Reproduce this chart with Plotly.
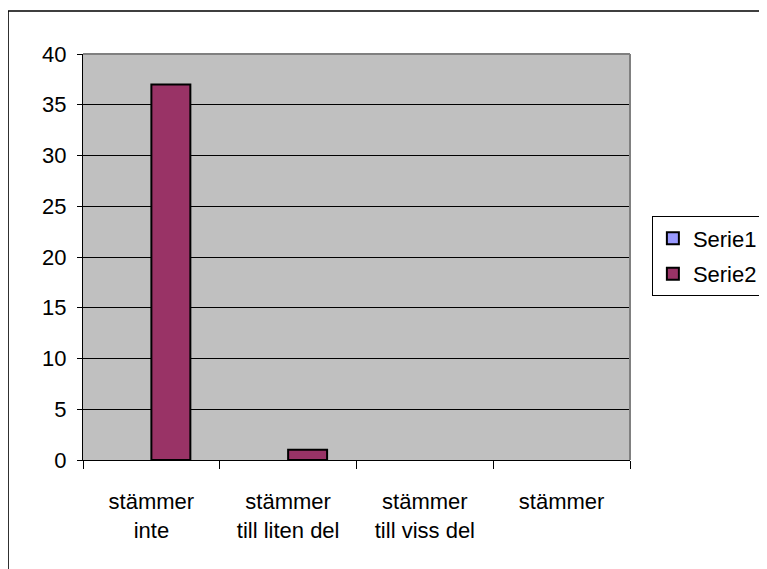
import plotly.graph_objects as go

# category labels and series values
categories = ["stämmer<br>inte", "stämmer<br>till liten del", "stämmer<br>till viss del", "stämmer"]
serie1 = [0, 0, 0, 0]
serie2 = [37, 1, 0, 0]

y_ticks = [0, 5, 10, 15, 20, 25, 30, 35, 40]

FONT = "Liberation Sans, Arial, sans-serif"


def _hide_zero(values):
    # Excel draws nothing for zero-height bars; plotly would draw a 2px outline
    return [v if v else None for v in values]


fig = go.Figure()
fig.add_trace(go.Bar(
    x=categories, y=_hide_zero(serie1), name="Serie1", legendgroup="s1",
    marker=dict(color="#9999FF", line=dict(color="black", width=2)),
))
fig.add_trace(go.Bar(
    x=categories, y=_hide_zero(serie2), name="Serie2", legendgroup="s2",
    marker=dict(color="#993366", line=dict(color="black", width=2)),
))

# page body has an 8px margin, so size and margins are trimmed to compensate
fig.update_layout(
    width=759, height=561,
    margin=dict(l=75, r=137, t=46, b=109, autoexpand=False),
    paper_bgcolor="white",
    plot_bgcolor="#C0C0C0",
    font=dict(family=FONT, size=22, color="black"),
    barmode="group",
    bargap=0.43,
    bargroupgap=0,
    showlegend=True,
    legend=dict(
        x=1.04, xanchor="left", y=0.6, yanchor="top",
        bgcolor="white", bordercolor="black", borderwidth=1,
        font=dict(size=22), tracegroupgap=4,
    ),
)

fig.update_xaxes(
    showline=True, linecolor="black", linewidth=1,
    ticks="outside", ticklen=8, tickcolor="black",
    tickson="boundaries", showgrid=False,
    ticklabelstandoff=22,
)
fig.update_yaxes(
    range=[0, 40], tickvals=y_ticks,
    showline=True, linecolor="black", linewidth=1,
    ticks="outside", ticklen=5, tickcolor="black",
    showgrid=True, gridcolor="black", gridwidth=1,
    zeroline=False, ticklabelstandoff=6,
)

# gray plot-area frame on top and right, outer chart border
fig.add_shape(type="line", xref="paper", yref="paper", x0=0, x1=1, y0=1, y1=1,
              line=dict(color="#808080", width=2))
fig.add_shape(type="line", xref="paper", yref="paper", x0=1, x1=1, y0=0, y1=1,
              line=dict(color="#808080", width=2))
fig.add_shape(type="rect", xref="paper", yref="paper", x0=-0.137, x1=1.4, y0=-0.4, y1=1.106,
              line=dict(color="black", width=1.5), layer="below")

fig.write_html("out.html")
